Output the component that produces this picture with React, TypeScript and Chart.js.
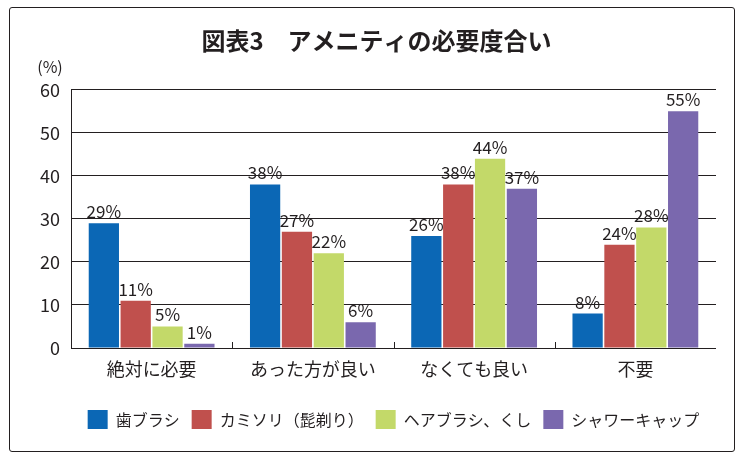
import { useEffect, useRef } from "react"
import { Chart, registerables } from "chart.js"

Chart.register(...registerables)

const categories = ["絶対に必要", "あった方が良い", "なくても良い", "不要"]
const seriesNames = ["歯ブラシ", "カミソリ（髭剃り）", "ヘアブラシ、くし", "シャワーキャップ"]
const toothbrush = [29, 38, 26, 8]
const razor = [11, 27, 38, 24]
const hairbrush = [5, 22, 44, 28]
const showerCap = [1, 6, 37, 55]
const yTicks = [0, 10, 20, 30, 40, 50, 60]

const colors = ["#0b67b5", "#c0504d", "#c3d969", "#7a68ae"]
const ink = "#231f20"
const font = "'Noto Sans CJK JP', 'Noto Sans', sans-serif"

// value labels above each bar, unit label, the small category ticks
const extras = {
  id: "extras",
  afterLayout(chart: any) {
    // legend centred on the plot area, as in the original
    const lg = chart.legend
    if (lg) {
      lg.left = chart.chartArea.left
      lg.right = chart.chartArea.right
    }
  },
  afterDatasetsDraw(chart: any) {
    const ctx = chart.ctx
    ctx.save()
    ctx.fillStyle = ink
    ctx.font = `17px ${font}`
    ctx.textAlign = "center"
    ctx.textBaseline = "bottom"
    chart.data.datasets.forEach((ds: any, i: number) => {
      chart.getDatasetMeta(i).data.forEach((bar: any, j: number) => {
        ctx.fillText(`${ds.data[j]}%`, bar.x, bar.y - 3)
      })
    })
    const { left, top, bottom } = chart.chartArea
    ctx.font = `16px ${font}`
    ctx.fillText("(%)", left - 21, top - 15)

    const x = chart.scales.x
    ctx.strokeStyle = ink
    ctx.lineWidth = 1
    ctx.beginPath()
    for (let i = 1; i < categories.length; i++) {
      const px = Math.round((x.getPixelForValue(i - 1) + x.getPixelForValue(i)) / 2) + 0.5
      ctx.moveTo(px, bottom)
      ctx.lineTo(px, bottom - 6)
    }
    ctx.stroke()
    ctx.restore()
  },
}

export default function App() {
  const chartRef = useRef<HTMLCanvasElement>(null)
  const chartInstance = useRef<Chart | null>(null)

  useEffect(() => {
    document.body.style.margin = "0"
    if (!chartRef.current) return
    if (chartInstance.current) chartInstance.current.destroy()
    const ctx = chartRef.current.getContext("2d")
    if (!ctx) return

    const values = [toothbrush, razor, hairbrush, showerCap]

    chartInstance.current = new Chart(ctx, {
      type: "bar",
      data: {
        labels: categories,
        datasets: values.map((v, i) => ({
          label: seriesNames[i],
          data: v,
          backgroundColor: colors[i],
          categoryPercentage: 0.79,
          barPercentage: 0.95,
        })),
      },
      options: {
        animation: false,
        responsive: false,
        layout: { padding: { top: 26, left: 37, right: 27, bottom: 22 } },
        plugins: {
          title: {
            display: true,
            text: "図表3　アメニティの必要度合い",
            color: ink,
            font: { family: font, size: 24, weight: "bold" },
            padding: { top: 0, bottom: 35 },
          },
          legend: {
            position: "bottom",
            labels: {
              color: ink,
              font: { family: font, size: 16 },
              boxWidth: 20,
              boxHeight: 19,
              padding: 12,
            },
          },
          tooltip: { enabled: false },
        },
        scales: {
          x: {
            grid: { display: false, drawTicks: false },
            border: { display: false },
            ticks: { color: ink, font: { family: font, size: 18 }, padding: 10 },
            afterFit: (scale: any) => {
              scale.height = 50
            },
          },
          y: {
            min: 0,
            max: 60,
            afterBuildTicks: (scale: any) => {
              scale.ticks = yTicks.map((v) => ({ value: v }))
            },
            afterFit: (scale: any) => {
              scale.width = 34
            },
            grid: { color: ink, lineWidth: 1, drawTicks: false },
            border: { display: true, color: ink, width: 1 },
            ticks: { color: ink, font: { family: font, size: 18 }, padding: 11 },
          },
        },
      },
      plugins: [extras],
    })

    return () => {
      if (chartInstance.current) chartInstance.current.destroy()
    }
  }, [])

  return (
    <div style={{ position: "relative", width: 743, height: 461, background: "#fff" }}>
      <div
        style={{
          position: "absolute",
          left: 9,
          top: 7,
          width: 726,
          height: 445,
          border: `1.5px solid ${ink}`,
          borderRadius: 3,
          boxSizing: "border-box",
        }}
      />
      <canvas ref={chartRef} width={743} height={461} style={{ position: "absolute", left: 0, top: 0 }} />
    </div>
  )
}
